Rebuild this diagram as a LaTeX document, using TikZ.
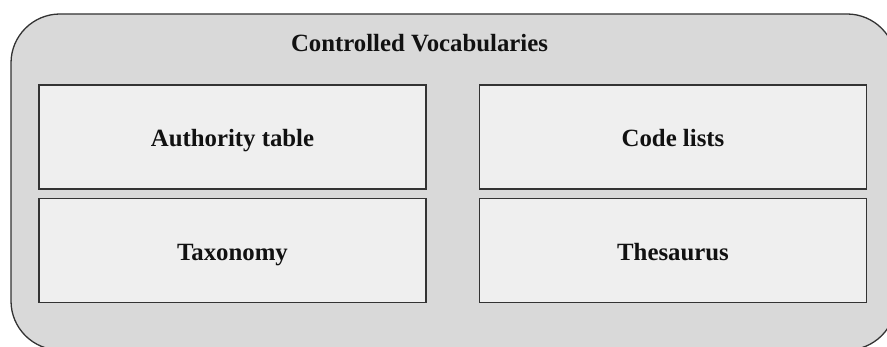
\documentclass[tikz,border=0pt]{standalone}
\usepackage{fontspec}
\setmainfont{Liberation Serif}
\definecolor{outerfill}{HTML}{D9D9D9}
\definecolor{boxfill}{HTML}{EFEFEF}
\definecolor{edge}{HTML}{333333}
\definecolor{ink}{HTML}{111111}
\begin{document}
\begin{tikzpicture}[x=1pt,y=-1pt,
  labeltext/.style={font=\fontsize{24.8}{28}\selectfont\bfseries, text=ink},
  group/.style={draw=edge, fill=outerfill, line width=1.3pt, rounded corners=49pt,
    minimum width=885pt, minimum height=336pt, inner sep=0pt},
  itembox/.style={draw=edge, fill=boxfill, line width=1.3pt,
    minimum width=387pt, minimum height=104pt, inner sep=0pt,
    text height=20pt, text depth=0pt, labeltext}]
  \useasboundingbox (0,0) rectangle (887,347);
  \clip (0,0) rectangle (887,347);
  % outer container (runs past the right and bottom edges)
  \node[group] (vocab) at (453.5,182) {};
  \node[labeltext, anchor=base] (title) at (419.5,52) {Controlled Vocabularies};
  % the four kinds of vocabulary
  \node[itembox] (authority) at (232.5,137) {Authority table};
  \node[itembox] (codes) at (673,137) {Code lists};
  \node[itembox] (taxonomy) at (232.5,250.5) {Taxonomy};
  \node[itembox] (thesaurus) at (673,250.5) {Thesaurus};
\end{tikzpicture}
\end{document}
